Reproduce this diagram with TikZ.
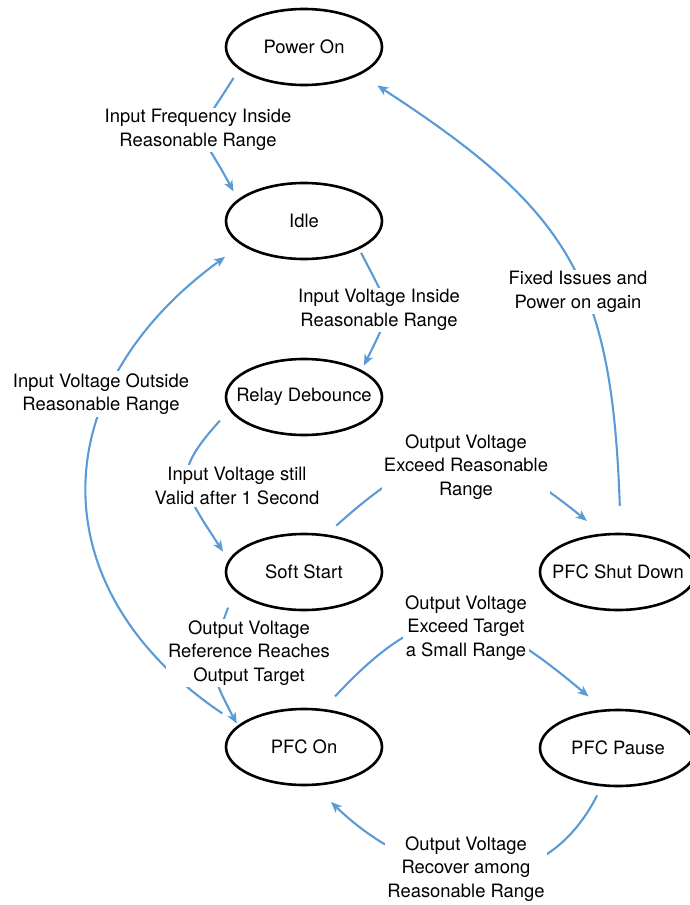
\documentclass[tikz,border=0pt]{standalone}
\usepackage{fontspec}
\setmainfont{TeX Gyre Heros}
\usetikzlibrary{arrows.meta,shapes.geometric}
\definecolor{flowblue}{HTML}{5B9BD5}
\begin{document}
\begin{tikzpicture}[x=1pt,y=-1pt,
    state/.style={draw, ellipse, line width=2.6pt, minimum width=156pt, minimum height=76pt, inner xsep=-16pt, inner ysep=0pt, font=\fontsize{18.4}{23.5}\selectfont},
    trans/.style={draw=flowblue, line width=2.1pt, -{Stealth[length=11pt,width=9pt,inset=3pt]}},
    cond/.style={fill=white, inner sep=2pt, align=center, font=\fontsize{18.4}{23.5}\selectfont}]
    \useasboundingbox (0,0) rectangle (689,905);

    \node[state] (pwron) at (304,47) {Power On};
    \node[state] (idle) at (304,221) {Idle};
    \node[state] (relay) at (304,397) {Relay Debounce};
    \node[state] (soft) at (304,572) {Soft Start};
    \node[state] (pfcon) at (304,747) {PFC On};
    \node[state] (shut) at (618,572) {PFC Shut Down};
    \node[state] (pause) at (618,748) {PFC Pause};

    \draw[trans, shorten <=10pt, shorten >=9pt] (pwron.199) to[out=238, in=118, looseness=1.78] (idle.162);
    \draw[trans, shorten <=4pt, shorten >=5pt] (idle.333) to[out=297, in=64, looseness=1.53] (relay.25);
    \draw[trans, shorten <=14pt, shorten >=10pt] (relay.190) to[out=228, in=123, looseness=1.5] (soft.171);
    \draw[trans, shorten <=18pt, shorten >=2pt] (soft.195) to[out=250, in=118, looseness=1.38] (pfcon.162);
    \draw[trans, shorten <=20pt, shorten >=20pt] (pfcon.161) to[out=146, in=216, looseness=1.3] (idle.201);
    \draw[trans, shorten <=13pt, shorten >=20pt] (soft.59) to[out=42, in=141, looseness=1.41] (shut.112);
    \draw[trans, shorten <=27pt, shorten >=20pt] (shut.86) to[out=92, in=327, looseness=1.22] (pwron.334);
    \draw[trans, shorten <=17pt, shorten >=20pt] (pfcon.63) to[out=47, in=140, looseness=1.48] (pause.110);
    \draw[trans, shorten <=10pt, shorten >=23pt] (pause.247) to[out=243, in=316, looseness=1.25] (pfcon.285);

    \node[cond] (c1) at (198,130) {Input Frequency Inside\\Reasonable Range};
    \node[cond] (c2) at (379,310) {Input Voltage Inside\\Reasonable Range};
    \node[cond] (c3) at (237,486) {Input Voltage still\\Valid after 1 Second};
    \node[cond] (c4) at (249,653) {Output Voltage\\Reference Reaches\\Output Target};
    \node[cond] (c5) at (101,394) {Input Voltage Outside\\Reasonable Range};
    \node[cond] (c6) at (466,467) {Output Voltage\\Exceed Reasonable\\Range};
    \node[cond] (c7) at (578,292) {Fixed Issues and\\Power on again};
    \node[cond] (c8) at (466,628) {Output Voltage\\Exceed Target\\a Small Range};
    \node[cond] (c9) at (466,869) {Output Voltage\\Recover among\\Reasonable Range};
\end{tikzpicture}
\end{document}
